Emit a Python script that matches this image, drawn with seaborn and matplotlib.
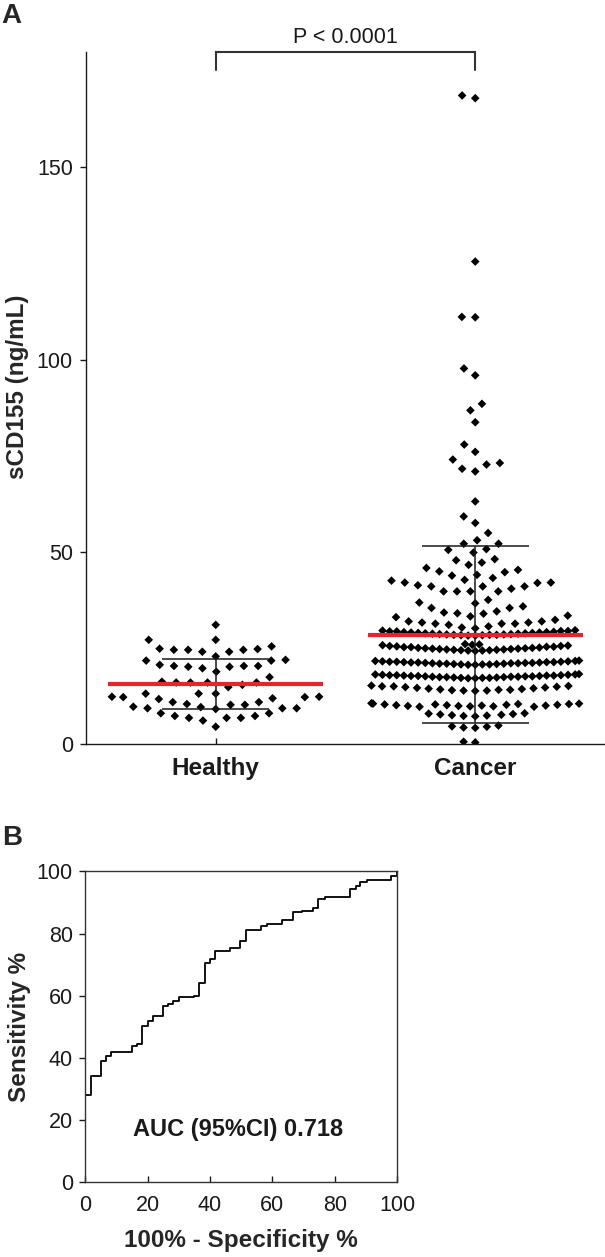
"""
sCD155 in healthy donors vs cancer patients (A) and ROC curve (B).
Values read off the published figure.
"""

import numpy as np
import pandas as pd
import matplotlib
matplotlib.use("Agg")  # no display
import matplotlib.pyplot as plt
import seaborn as sns

# ---------------------------------------------------------------------------
# data
# ---------------------------------------------------------------------------
groups = ["Healthy", "Cancer"]

healthy_vals = [
    31.0, 27.1, 27.1,
    25.4, 24.7, 24.5, 24.0, 24.0, 24.5, 24.5, 24.8,
    22.8, 21.7, 21.7, 21.9,
    20.6, 20.1, 20.1, 19.7, 20.3, 20.3, 20.3, 18.8,
    17.4,
    16.2, 16.0, 16.0, 15.4, 14.8, 16.0, 16.0,
    13.1, 13.1, 13.1,
    12.3, 12.3, 12.2, 12.2, 11.9, 11.7, 10.9, 10.9,
    10.2, 9.7, 9.3, 9.3, 9.1, 9.3, 9.6, 10.2, 10.4,
    8.0, 7.3, 6.8, 6.8, 6.1, 6.8, 7.3, 8.0,
    4.5,
]

# cancer column, split by how tightly the points are packed in the figure
cancer_upper = [
    168.7, 168.0, 125.5, 111.1, 111.0, 97.7, 95.9, 88.5, 86.8, 83.7,
    77.9, 76.0, 74.0, 73.1, 72.7, 71.6, 70.9, 63.1, 59.2, 57.5,
    54.9, 53.0, 52.1, 52.1, 50.7, 50.5, 49.8, 48.1, 47.8, 47.2,
    46.6, 45.8, 45.3, 44.9, 44.7, 44.0, 43.8, 43.2, 42.5, 41.9,
    42.0, 42.0, 42.7, 41.3, 41.0, 41.0, 41.0, 40.4, 39.7, 39.7,
    39.7, 39.7, 37.5, 36.8, 36.6, 35.4, 34.5, 33.9, 33.2, 34.2,
    32.3, 33.0, 33.4, 34.0, 35.4, 35.8, 31.6, 31.9, 31.3, 31.0,
    30.1, 30.3, 30.6, 31.3, 31.3, 31.6, 31.9,
]
cancer_dense = [
    28.2, 28.2, 28.3, 28.3, 28.4, 28.4, 28.4, 28.5, 28.5, 28.6,
    28.6, 28.7, 28.7, 28.8, 28.8, 28.9, 28.9, 29.0, 29.0, 29.1,
    29.1, 29.2, 29.3, 29.3, 29.4, 29.4, 29.5, 29.6,
    24.2, 24.3, 24.3, 24.4, 24.4, 24.5, 24.5, 24.6, 24.6, 24.7,
    24.7, 24.8, 24.8, 24.9, 24.9, 25.0, 25.0, 25.1, 25.2, 25.2,
    25.3, 25.3, 25.4, 25.5, 25.5, 25.6, 25.7, 25.8, 25.9, 26.0,
    20.6, 20.6, 20.7, 20.7, 20.7, 20.8, 20.8, 20.9, 20.9, 20.9,
    21.0, 21.0, 21.0, 21.1, 21.1, 21.1, 21.2, 21.2, 21.2, 21.3,
    21.3, 21.3, 21.4, 21.4, 21.4, 21.5, 21.5, 21.6, 21.6, 21.7,
    17.1, 17.1, 17.2, 17.2, 17.2, 17.3, 17.3, 17.4, 17.4, 17.4,
    17.5, 17.5, 17.5, 17.6, 17.6, 17.6, 17.7, 17.7, 17.7, 17.8,
    17.8, 17.8, 17.9, 17.9, 17.9, 18.0, 18.0, 18.1, 18.1, 18.2,
]
cancer_low = [
    13.8, 13.9, 13.9, 14.0, 14.1, 14.1, 14.2, 14.3, 14.4, 14.5,
    14.6, 14.7, 14.8, 14.9, 15.0, 15.0, 15.1, 15.2,
    9.7, 9.7, 9.8, 9.8, 9.9, 9.9, 10.0, 10.0, 10.1, 10.1,
    10.2, 10.2, 10.3, 10.3, 10.4, 10.4, 10.5, 10.5, 10.6,
    7.2, 7.3, 7.4, 7.5, 7.6, 7.7, 7.8, 7.9, 8.0,
    4.2, 4.3, 4.5, 4.6, 4.8,
    0.4, 0.6,
]

group_mean = [15.6, 28.4]
group_sd = [6.6, 23.0]
p_text = "P < 0.0001"

# ROC: x where the curve jumps up, and the sensitivity after the jump
roc_fpr = [0, 1.9, 5.0, 6.6, 8.2, 9.9, 15.0, 16.6, 18.2, 20.0,
           21.7, 24.9, 26.4, 28.1, 29.9, 34.8, 36.6, 38.3, 39.9, 41.5,
           46.5, 49.7, 51.6, 56.4, 58.2, 63.1, 66.6, 69.5, 73.2, 74.8,
           77.0, 84.8, 86.9, 88.2, 90.4, 98.1, 100]
roc_tpr = [28.2, 34.1, 38.9, 40.7, 41.8, 42.1, 43.9, 44.5, 50.2, 52.0,
           53.6, 56.9, 57.4, 58.2, 59.5, 59.8, 64.1, 70.5, 71.8, 74.3,
           75.3, 77.7, 81.2, 82.4, 83.1, 84.4, 87.1, 87.4, 88.4, 91.3,
           91.9, 94.5, 95.4, 96.5, 97.3, 98.4, 100]
auc_text = "AUC (95%CI) 0.718"

# ---------------------------------------------------------------------------
# style
# ---------------------------------------------------------------------------
sns.set_theme(style="ticks")
plt.rcParams["font.family"] = ["Liberation Sans", "DejaVu Sans"]
plt.rcParams["axes.linewidth"] = 1.0
INK = "#1a1a1a"
RED = "#e3262b"
TICK_FS = 15.5
LABEL_FS = 17.5
MARK = 4.4          # diamond size (pt)

fig = plt.figure(figsize=(6.05, 12.57), dpi=100)
ax_a = fig.add_axes([0.1421, 0.4081, 0.8579, 0.5505])
ax_b = fig.add_axes([0.141, 0.0593, 0.5152, 0.2474])

# ---------------------------------------------------------------------------
# A: column scatter
# ---------------------------------------------------------------------------
parts = [
    ("Healthy", healthy_vals, 5.4),
    ("Cancer", cancer_upper, 4.8),
    ("Cancer", cancer_low, 3.6),
    ("Cancer", cancer_dense, 0.5),
]
# invisible edge width only sets the swarm spacing of each part
for g, vals, spread in parts:
    part = pd.DataFrame({"group": [g] * len(vals), "value": vals})
    sns.swarmplot(
        data=part, x="group", y="value", order=groups,
        ax=ax_a, marker="D", color="black", size=MARK,
        linewidth=spread, edgecolor="none", warn_thresh=1, zorder=3,
    )

for i, (m, s) in enumerate(zip(group_mean, group_sd)):
    ax_a.vlines(i, m - s, m + s, color=INK, lw=1.1, zorder=4)
    ax_a.hlines([m - s, m + s], i - 0.207, i + 0.207, color=INK, lw=1.1, zorder=4)
    ax_a.hlines(m, i - 0.415, i + 0.415, color=RED, lw=3.0, zorder=5)

# significance bracket
br_lo, br_hi = 175.3, 180.0
ax_a.plot([0, 0, 1, 1], [br_lo, br_hi, br_hi, br_lo], color="#333333",
          lw=1.5, clip_on=False, solid_joinstyle="miter")
ax_a.text(0.5, 182.4, p_text, ha="center", va="baseline", fontsize=TICK_FS,
          color=INK)

ax_a.set_xlim(-0.5, 1.5)
ax_a.set_ylim(0, 180)
ax_a.set_yticks([0, 50, 100, 150])
ax_a.set_xticks(range(len(groups)))
ax_a.set_xticklabels(groups, fontweight="bold", fontsize=LABEL_FS)
ax_a.set_xlabel("")
ax_a.set_ylabel("sCD155 (ng/mL)", fontweight="bold", fontsize=LABEL_FS)
ax_a.yaxis.set_label_coords(-0.11, 0.517)
ax_a.tick_params(axis="y", direction="out", length=4.5, width=1.0,
                 labelsize=TICK_FS, pad=5, colors=INK)
ax_a.tick_params(axis="x", direction="in", length=4.5, width=1.0, pad=9,
                 colors=INK)
sns.despine(ax=ax_a)
for sp in ax_a.spines.values():
    sp.set_color(INK)

# ---------------------------------------------------------------------------
# B: ROC curve
# ---------------------------------------------------------------------------
roc = pd.DataFrame({"fpr": [0] + roc_fpr, "tpr": [0] + roc_tpr})
sns.lineplot(data=roc, x="fpr", y="tpr", ax=ax_b, color="black", lw=1.3,
             drawstyle="steps-post", estimator=None, sort=False)

ax_b.text(49, 17, auc_text, ha="center", va="center", fontsize=17,
          fontweight="bold", color=INK)
ax_b.set_xlim(0, 100)
ax_b.set_ylim(0, 100)
ax_b.set_xticks(range(0, 101, 20))
ax_b.set_yticks(range(0, 101, 20))
ax_b.set_xlabel("100% - Specificity %", fontweight="bold", fontsize=LABEL_FS)
ax_b.set_ylabel("Sensitivity %", fontweight="bold", fontsize=LABEL_FS)
ax_b.xaxis.set_label_coords(0.5, -0.15)
ax_b.yaxis.set_label_coords(-0.175, 0.5)
ax_b.tick_params(axis="y", direction="out", length=4, width=1.0,
                 labelsize=TICK_FS, pad=5, colors=INK)
ax_b.tick_params(axis="x", direction="in", length=4.5, width=1.0,
                 labelsize=TICK_FS, pad=9, colors=INK)
for sp in ax_b.spines.values():
    sp.set_color("#333333")
    sp.set_visible(True)

# panel letters
fig.text(0.002, 0.998, "A", fontsize=20, fontweight="bold", va="top", ha="left")
fig.text(0.004, 0.3437, "B", fontsize=20, fontweight="bold", va="top", ha="left")

fig.savefig("out.png", dpi=100)
plt.close(fig)
